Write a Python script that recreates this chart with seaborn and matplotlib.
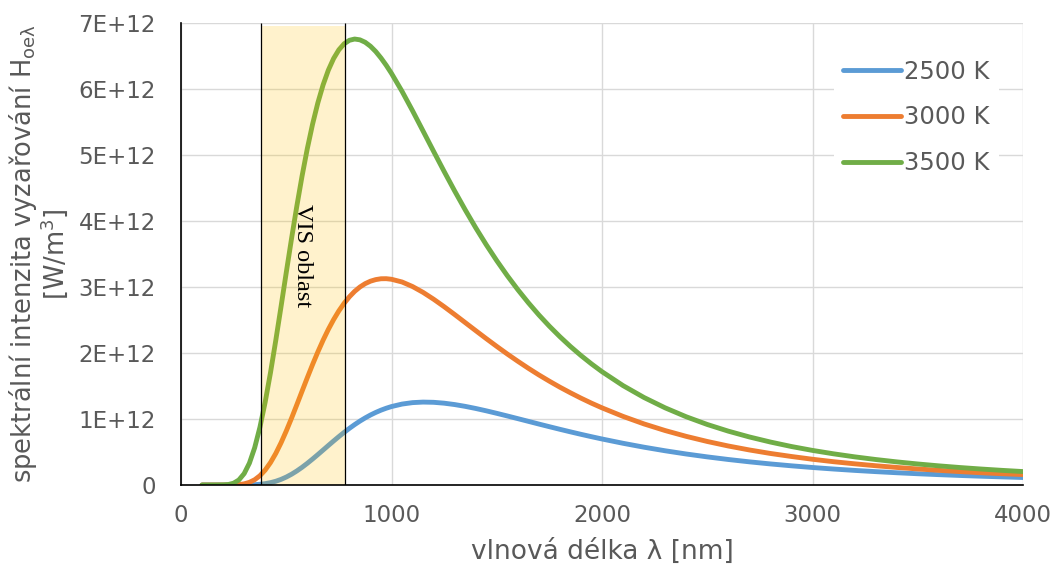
import matplotlib
matplotlib.use("Agg")
import matplotlib.pyplot as plt
import seaborn as sns
import pandas as pd
from matplotlib.ticker import FixedLocator, FuncFormatter

# ---- data (values in units of 1E+12 W/m^3) ----
wavelength_nm = [100, 150,
                 200, 225, 250, 275, 300, 325, 350, 375, 400, 425, 450, 475, 500, 525,
                 550, 575, 600, 625, 650, 675, 700, 725, 750, 775, 800, 825, 850, 875,
                 900, 925, 950, 975, 1000,
                 1050, 1100, 1150, 1200, 1250, 1300, 1350, 1400, 1450, 1500, 1550, 1600,
                 1650, 1700, 1750, 1800, 1850, 1900, 1950, 2000,
                 2100, 2200, 2300, 2400, 2500, 2600, 2700, 2800, 2900, 3000, 3100, 3200,
                 3300, 3400, 3500, 3600, 3700, 3800, 3900, 4000]
h_2500K = [0, 0,
           0, 0.000005, 0.00004, 0.0002, 0.0007, 0.0021, 0.0051, 0.0109, 0.0206, 0.0355,
           0.0566, 0.0847, 0.1201, 0.1628, 0.2123, 0.2679, 0.3286, 0.3932, 0.4605,
           0.5294, 0.5985, 0.6669, 0.7335, 0.7975, 0.8583, 0.9153, 0.9682, 1.0165,
           1.0604, 1.0992, 1.1337, 1.1633, 1.1886,
           1.2261, 1.2481, 1.2563, 1.2529, 1.2397, 1.2188, 1.1916, 1.1596, 1.1240,
           1.0859, 1.0462, 1.0055, 0.9646, 0.9236, 0.8834, 0.8438, 0.8053, 0.7679,
           0.7319, 0.6972,
           0.6320, 0.5725, 0.5186, 0.4698, 0.4260, 0.3865, 0.3510, 0.3193, 0.2907,
           0.2650, 0.2420, 0.2212, 0.2026, 0.1857, 0.1705, 0.1568, 0.1444, 0.1331,
           0.1229, 0.1136]
h_3000K = [0, 0,
           0.00005, 0.00036, 0.0018, 0.0063, 0.0176, 0.0403, 0.0797, 0.1408, 0.2268,
           0.3389, 0.4768, 0.6376, 0.8176, 1.0114, 1.2143, 1.4205, 1.6256, 1.8251,
           2.0153, 2.1938, 2.358, 2.5063, 2.6385, 2.7536, 2.852, 2.934, 3.000, 3.051,
           3.088, 3.112, 3.125, 3.126, 3.117,
           3.076, 3.007, 2.9185, 2.815, 2.702, 2.583, 2.461, 2.339, 2.218, 2.100,
           1.985, 1.875, 1.769, 1.668, 1.573, 1.482, 1.397, 1.316, 1.240, 1.169,
           1.0395, 0.925, 0.825, 0.737, 0.6595, 0.591, 0.531, 0.478, 0.432, 0.390,
           0.353, 0.321, 0.292, 0.266, 0.243, 0.222, 0.203, 0.186, 0.171, 0.158]
h_3500K = [0, 0,
           0.0014, 0.0075, 0.0277, 0.0766, 0.1723, 0.3313, 0.5649, 0.8754, 1.2576,
           1.6997, 2.186, 2.698, 3.219, 3.731, 4.221, 4.679, 5.096, 5.467, 5.789,
           6.062, 6.286, 6.462, 6.594, 6.685, 6.738, 6.757, 6.745, 6.708, 6.648,
           6.568, 6.470, 6.359, 6.236,
           5.965, 5.670, 5.363, 5.055, 4.751, 4.455, 4.170, 3.898, 3.641, 3.399,
           3.172, 2.960, 2.762, 2.577, 2.406, 2.247, 2.099, 1.962, 1.835, 1.717,
           1.506, 1.325, 1.169, 1.034, 0.917, 0.816, 0.728, 0.651, 0.583, 0.524,
           0.4725, 0.4267, 0.3863, 0.3504, 0.3185, 0.2902, 0.2648, 0.2422, 0.2219, 0.2036]
series_labels = ["2500 K", "3000 K", "3500 K"]
series_colors = ["#5B9BD5", "#ED7D31", "#70AD47"]
vis_range = [380, 780]
scale = 1e12

x_ticks = [0, 1000, 2000, 3000, 4000]
y_ticks = [0, 1, 2, 3, 4, 5, 6, 7]

for s in (h_2500K, h_3000K, h_3500K):
    assert len(s) == len(wavelength_nm)

rows = []
for lab, vals in zip(series_labels, [h_2500K, h_3000K, h_3500K]):
    for w, v in zip(wavelength_nm, vals):
        rows.append({"wl": w, "H": v * scale, "T": lab})
df = pd.DataFrame(rows)

sns.set_theme(style="white")
plt.rcParams["font.family"] = ["DejaVu Sans"]
plt.rcParams["mathtext.fontset"] = "dejavusans"

gray = "#595959"
fig = plt.figure(figsize=(10.57, 5.69), dpi=100)
ax = fig.add_axes([181 / 1057, 1 - 485 / 569, (1023 - 181) / 1057, (485 - 23) / 569])

sns.lineplot(data=df, x="wl", y="H", hue="T", hue_order=series_labels,
             palette=series_colors, linewidth=3.5, errorbar=None, ax=ax,
             solid_capstyle="round", solid_joinstyle="round")
for ln in ax.lines:
    ln.set_zorder(3)

ax.set_xlim(0, 4000)
ax.set_ylim(0, 7 * scale)
ax.xaxis.set_major_locator(FixedLocator(x_ticks))
ax.yaxis.set_major_locator(FixedLocator([t * scale for t in y_ticks]))
ax.yaxis.set_major_formatter(FuncFormatter(
    lambda v, p: "0" if abs(v) < 1 else f"{int(round(v / scale))}E+12"))

ax.grid(True, color="#D9D9D9", linewidth=1.0, zorder=0)
ax.set_axisbelow(True)
for s in ["top", "right"]:
    ax.spines[s].set_visible(False)
for s in ["left", "bottom"]:
    ax.spines[s].set_color("black")
    ax.spines[s].set_linewidth(1.2)
    ax.spines[s].set_zorder(6)

ax.tick_params(axis="both", direction="in", length=5, width=1, color="black",
               labelcolor=gray, labelsize=16.5)
ax.tick_params(axis="y", pad=18)
ax.tick_params(axis="x", pad=14)

# VIS band (drawn over the curves, semi-transparent)
ax.axvspan(vis_range[0], vis_range[1], ymin=0, ymax=6.95 / 7, color="#FFC000",
           alpha=0.2, lw=0, zorder=4)
ax.vlines(vis_range, 0, 7 * scale, colors="black", linewidth=0.9, zorder=5)
ax.text(578, 3.48 * scale, "VIS oblast", rotation=270, ha="center", va="center",
        fontsize=17.5, family="Liberation Serif", color="black", zorder=6)

ax.set_xlabel("vlnová délka λ [nm]", fontsize=19, color=gray, labelpad=8)
ax.set_ylabel("spektrální intenzita vyzařování H$_{\\mathregular{oeλ}}$\n[W/m$^{\\mathregular{3}}$]",
              fontsize=18.5, color=gray, labelpad=6, linespacing=1.0)

leg = ax.legend(loc="upper right", bbox_to_anchor=(0.972, 0.942), borderaxespad=0,
                frameon=True, facecolor="white", edgecolor="none", framealpha=1,
                fontsize=17.5, handlelength=2.35, handletextpad=0.15, labelspacing=0.9,
                title=None)
for t in leg.get_texts():
    t.set_color(gray)
for l in leg.get_lines():
    l.set_linewidth(3.5)
    l.set_solid_capstyle("round")
leg.set_zorder(7)

fig.savefig("out.png", dpi=100)
